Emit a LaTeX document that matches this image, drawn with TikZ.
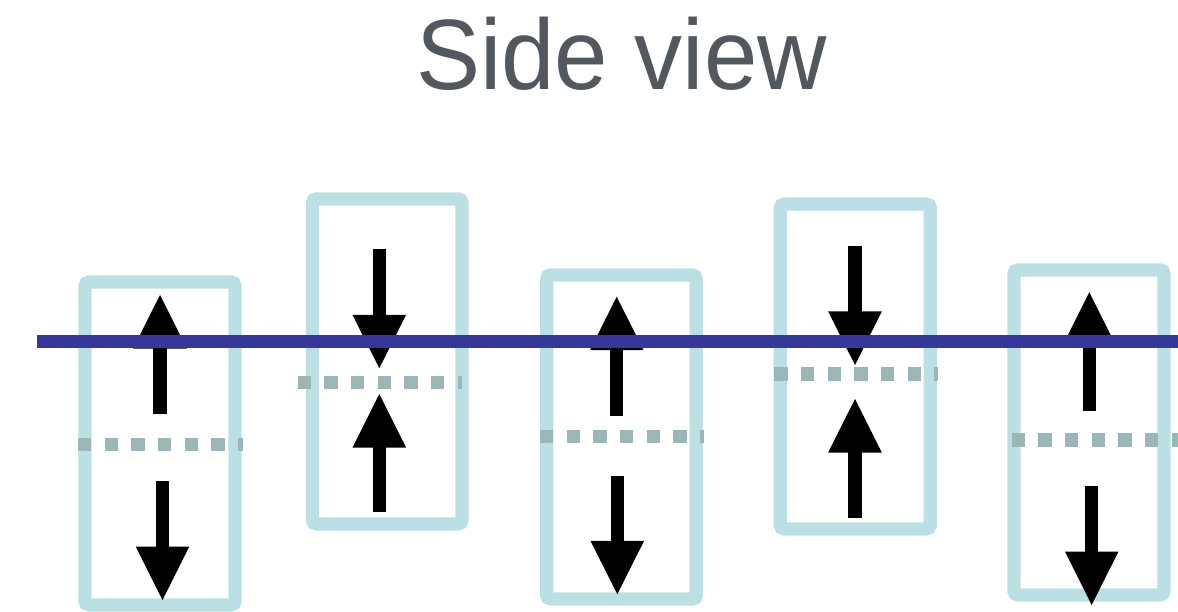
\documentclass[tikz,border=0pt]{standalone}
\usepackage{fontspec}
\setmainfont{Liberation Sans}
\definecolor{cellline}{HTML}{BAE0E3}
\definecolor{midline}{HTML}{9AB6B7}
\definecolor{surface}{HTML}{36379A}
\definecolor{titlegray}{HTML}{53585F}
\tikzset{
  cell/.style={draw=cellline, line width=13.3pt, rounded corners=4pt},
  midplane/.style={draw=midline, line width=13.3pt, dash pattern=on 13.33pt off 13.33pt},
  surfline/.style={draw=surface, line width=13.3pt},
}
% vertical block arrows: x, tip y, tail y (y grows downwards)
\newcommand{\arrowup}[3]{%
  \fill (#1-6.6,#3) rectangle (#1+6.6,#2+50);
  \fill (#1,#2) -- (#1-26.8,#2+53.5) -- (#1+26.8,#2+53.5) -- cycle;}
\newcommand{\arrowdown}[3]{%
  \fill (#1-6.6,#3) rectangle (#1+6.6,#2-50);
  \fill (#1,#2) -- (#1-26.8,#2-53.5) -- (#1+26.8,#2-53.5) -- cycle;}
\begin{document}
\begin{tikzpicture}[x=1pt,y=-1pt]
\useasboundingbox (0,0) rectangle (1178,612);

\node[text=titlegray, anchor=base, inner sep=0pt, xscale=0.96,
      font=\fontsize{100}{100}\selectfont] (title) at (621.5,90) {Side view};

% cells
\draw[cell] (85,282) rectangle (235,605);
\draw[cell] (312.5,199) rectangle (462,524);
\draw[cell] (546.7,275) rectangle (696.3,599);
\draw[cell] (780.3,204) rectangle (930.3,529);
\draw[cell] (1014,270) rectangle (1164,595);

% mid planes
\draw[midplane] (78,444.3) -- (243,444.3);
\draw[midplane] (297.7,382.7) -- (462,382.7);
\draw[midplane] (540,436.7) -- (704,436.7);
\draw[midplane] (774.3,374) -- (938,374);
\draw[midplane] (1011.7,440) -- (1178,440);

% arrows
\arrowup{160}{295}{414}
\arrowdown{162.5}{600}{481}
\arrowdown{379.3}{368.3}{249.3}
\arrowup{379.3}{394}{512.3}
\arrowup{616.7}{296.7}{415.7}
\arrowdown{617.3}{594.3}{476}
\arrowdown{855}{365}{245.7}
\arrowup{855}{399}{518.3}
\arrowup{1089.3}{292.3}{411}
\arrowdown{1091.7}{605}{485.7}

% surface line
\draw[surfline] (37.3,341.7) -- (1178,341.7);
\end{tikzpicture}
\end{document}
